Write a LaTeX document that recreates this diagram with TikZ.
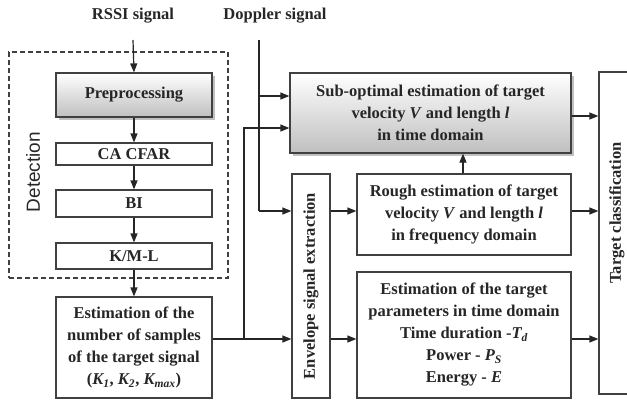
\documentclass[tikz,border=0pt]{standalone}
\usepackage{fontspec}
\setmainfont{Liberation Serif}
\newfontfamily\detfont{Liberation Sans}
\usetikzlibrary{arrows.meta,shadows,calc}
\begin{document}
\begin{tikzpicture}[x=1pt,y=-1pt,
  txt/.style={font=\fontsize{16.5}{22}\selectfont\bfseries, align=center, text=black!85},
  box/.style={txt, draw=black!75, line width=1.2pt, fill=white, inner sep=0pt},
  shbox/.style={box, top color=white, bottom color=black!25, drop shadow={shadow xshift=3pt, shadow yshift=-3pt, fill=black!30, opacity=0.8}},
  arr/.style={draw=black!85, line width=1.2pt, -{Triangle[length=9pt,width=7pt]}},
  ln/.style={draw=black!85, line width=1.2pt}]
\useasboundingbox (0,0) rectangle (627,400);
% detection group
\node[draw=black!75, dash pattern=on 5pt off 3pt, line width=1.2pt, minimum width=219pt, minimum height=226pt, inner sep=0pt] (det) at (118.5,165) {};
\node[rotate=90, text=black!85, font=\detfont\fontsize{19}{22}\selectfont] (detl) at (33,172) {Detection};
% inputs
\node[txt] (rssi) at (133,16) {RSSI signal};
\node[txt] (dop) at (275,16) {Doppler signal};
\coordinate (rssiin) at (133,40);
\coordinate (dopin) at (259,40);
% left column
\node[shbox, minimum width=156pt, minimum height=44pt] (pre) at (134,95) {Preprocessing};
\node[box, minimum width=156pt, minimum height=22pt] (cfar) at (134,154) {CA CFAR};
\node[box, minimum width=156pt, minimum height=27pt] (bi) at (134,203.5) {BI};
\node[box, minimum width=156pt, minimum height=26pt] (kml) at (134,256) {K/M-L};
\node[box, minimum width=156pt, minimum height=101pt] (est) at (134,347.5) {Estimation of the\\number of samples\\of the target signal\\(\textit{K\textsubscript{1}}, \textit{K\textsubscript{2}}, \textit{K\textsubscript{max}})};
% middle
\node[shbox, minimum width=281pt, minimum height=80pt] (sub) at (430.5,113) {Sub-optimal estimation of target\\velocity \textit{V} and length \textit{l}\\in time domain};
\node[box, minimum width=38pt, minimum height=224pt] (env) at (311,286) {};
\node[txt, rotate=90] (envl) at (env.center) {Envelope signal extraction};
\node[box, minimum width=214pt, minimum height=81pt] (rough) at (464,214.5) {Rough estimation of target\\velocity \textit{V} and length \textit{l}\\in frequency domain};
\node[box, minimum width=214pt, minimum height=126pt] (par) at (464,335) {Estimation of the target\\parameters in time domain\\Time duration -\textit{T\textsubscript{d}}\\Power - \textit{P\textsubscript{S}}\\Energy - \textit{E}};
\node[box, minimum width=42pt, minimum height=322pt] (tc) at (620,233) {};
\node[txt, rotate=90] (tcl) at (617,213) {Target classification};
% row coordinates
\coordinate (y96) at (0,96);
\coordinate (y128) at (0,128);
\coordinate (y211) at (0,211);
\coordinate (y339) at (0,339);
\coordinate (y116) at (0,116);
\coordinate (x244) at (244,0);
% connectors
\draw[arr] (rssiin) -- (pre.north);
\draw[arr] (pre.south) -- (cfar.north);
\draw[arr] (cfar.south) -- (bi.north);
\draw[arr] (bi.south) -- (kml.north);
\draw[arr] (kml.south) -- (est.north);
\draw[ln] (dopin) -- (dopin |- y211);
\draw[arr] (dopin |- y211) -- (env.west |- y211);
\draw[arr] (dopin |- y96) -- (sub.west |- y96);
\draw[arr] (est.east |- y339) -- (env.west |- y339);
\draw[arr] (x244 |- y339) -- (x244 |- y128) -- (sub.west |- y128);
\draw[arr] (env.east |- y211) -- (rough.west |- y211);
\draw[arr] (env.east |- y339) -- (par.west |- y339);
\draw[arr] (rough.north -| 463,0) -- (sub.south -| 463,0);
\draw[arr] (sub.east |- y116) -- (tc.west |- y116);
\draw[arr] (rough.east |- y211) -- (tc.west |- y211);
\draw[arr] (par.east |- y339) -- (tc.west |- y339);
\end{tikzpicture}
\end{document}
